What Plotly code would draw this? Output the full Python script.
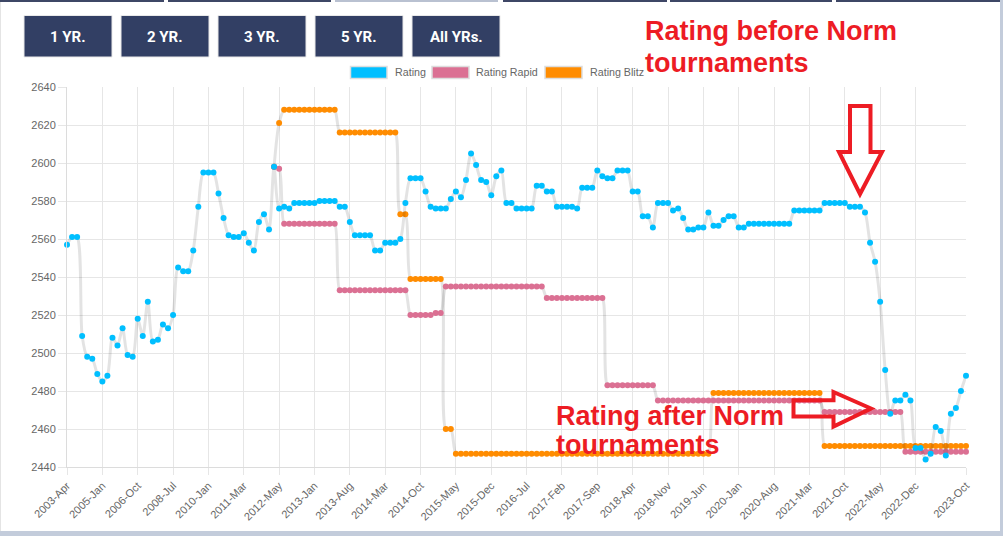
import plotly.graph_objects as go

# ---------------- data ----------------
early_dates = [
    "2003-Apr", "2003-Jul", "2003-Oct", "2004-Jan", "2004-Apr", "2004-Jul", "2004-Oct",
    "2005-Jan", "2005-Apr", "2005-Jul", "2005-Oct", "2006-Jan", "2006-Apr", "2006-Jul",
    "2006-Oct", "2007-Jan", "2007-Apr", "2007-Jul", "2007-Oct", "2008-Jan", "2008-Apr",
    "2008-Jul", "2008-Oct", "2009-Jan", "2009-Apr", "2009-Jul", "2009-Sep", "2009-Nov",
    "2010-Jan", "2010-Mar", "2010-May", "2010-Jul", "2010-Sep", "2010-Nov", "2011-Jan",
    "2011-Mar", "2011-May", "2011-Jul", "2011-Sep", "2011-Nov", "2012-Jan", "2012-Mar",
    "2012-May", "2012-Jul",
]
month_names = ["Jan", "Feb", "Mar", "Apr", "May", "Jun",
               "Jul", "Aug", "Sep", "Oct", "Nov", "Dec"]
monthly_dates = [f"{y}-{m}" for y in range(2012, 2024) for m in month_names]
monthly_dates = monthly_dates[monthly_dates.index("2012-Aug"):monthly_dates.index("2023-Oct") + 1]
dates = early_dates + monthly_dates

tick_labels = [
    "2003-Apr", "2005-Jan", "2006-Oct", "2008-Jul", "2010-Jan", "2011-Mar", "2012-May",
    "2013-Jan", "2013-Aug", "2014-Mar", "2014-Oct", "2015-May", "2015-Dec", "2016-Jul",
    "2017-Feb", "2017-Sep", "2018-Apr", "2018-Nov", "2019-Jun", "2020-Jan", "2020-Aug",
    "2021-Mar", "2021-Oct", "2022-May", "2022-Dec", "2023-Oct",
]

rating = [
    2557, 2561, 2561, 2509, 2498, 2497, 2489, 2485, 2488, 2508,
    2504, 2513, 2499, 2498, 2518, 2509, 2527, 2506, 2507, 2515,
    2513, 2520, 2545, 2543, 2543, 2554, 2577, 2595, 2595, 2595,
    2584, 2571, 2562, 2561, 2561, 2563, 2558, 2554, 2569, 2573,
    2565, 2598, 2576, 2577, 2576, 2579, 2579, 2579, 2579, 2579,
    2580, 2580, 2580, 2580, 2577, 2577, 2569, 2562, 2562, 2562,
    2562, 2554, 2554, 2558, 2558, 2558, 2560, 2579, 2592, 2592,
    2592, 2585, 2577, 2576, 2576, 2576, 2581, 2585, 2582, 2591,
    2605, 2599, 2591, 2590, 2583, 2593, 2596, 2579, 2579, 2576,
    2576, 2576, 2576, 2588, 2588, 2585, 2585, 2577, 2577, 2577,
    2577, 2576, 2587, 2587, 2587, 2596, 2593, 2592, 2592, 2596,
    2596, 2596, 2585, 2585, 2572, 2572, 2566, 2579, 2579, 2579,
    2575, 2576, 2571, 2565, 2565, 2566, 2566, 2574, 2567, 2567,
    2570, 2572, 2572, 2566, 2566, 2568, 2568, 2568, 2568, 2568,
    2568, 2568, 2568, 2568, 2575, 2575, 2575, 2575, 2575, 2575,
    2579, 2579, 2579, 2579, 2579, 2577, 2577, 2577, 2574, 2558,
    2548, 2527, 2491, 2468, 2475, 2475, 2478, 2475, 2450, 2450,
    2444, 2447, 2461, 2459, 2446, 2468, 2471, 2480, 2488,
]

# rapid & blitz start at 2012-Mar (index 41)
rapid = [
    2598, 2597,
    2568, 2568, 2568, 2568, 2568, 2568, 2568, 2568, 2568, 2568, 2568,
    2533, 2533, 2533, 2533, 2533, 2533, 2533, 2533, 2533, 2533, 2533, 2533, 2533, 2533,
    2520, 2520, 2520, 2520, 2520,
    2521, 2521,
    2535, 2535, 2535, 2535, 2535, 2535, 2535, 2535, 2535, 2535,
    2535, 2535, 2535, 2535, 2535, 2535, 2535, 2535, 2535, 2535,
    2529, 2529, 2529, 2529, 2529, 2529, 2529, 2529, 2529, 2529, 2529, 2529,
    2483, 2483, 2483, 2483, 2483, 2483, 2483, 2483, 2483, 2483,
    2475, 2475, 2475, 2475, 2475, 2475, 2475, 2475, 2475, 2475, 2475,
    2475, 2475, 2475, 2475, 2475, 2475, 2475, 2475, 2475, 2475, 2475,
    2475, 2475, 2475, 2475, 2475, 2475, 2475, 2475, 2475, 2475, 2475,
    2469, 2469, 2469, 2469, 2469, 2469, 2469, 2469,
    2469, 2469, 2469, 2469, 2469, 2469, 2469, 2469,
    2448, 2448, 2448, 2448, 2448, 2448, 2448, 2448, 2448, 2448, 2448, 2448, 2448,
]

blitz = [
    2598, 2621,
    2628, 2628, 2628, 2628, 2628, 2628, 2628, 2628, 2628, 2628, 2628,
    2616, 2616, 2616, 2616, 2616, 2616, 2616, 2616, 2616, 2616, 2616, 2616,
    2573, 2573,
    2539, 2539, 2539, 2539, 2539, 2539, 2539,
    2460, 2460,
    2447, 2447, 2447, 2447, 2447, 2447, 2447, 2447, 2447, 2447,
    2447, 2447, 2447, 2447, 2447, 2447, 2447, 2447, 2447, 2447,
    2447, 2447, 2447, 2447, 2447, 2447, 2447, 2447, 2447, 2447,
    2447, 2447, 2447, 2447, 2447, 2447, 2447, 2447, 2447, 2447,
    2447, 2447, 2447, 2447, 2447, 2447, 2447, 2447, 2447, 2447,
    2447,
    2479, 2479, 2479, 2479, 2479, 2479, 2479, 2479, 2479, 2479, 2479,
    2479, 2479, 2479, 2479, 2479, 2479, 2479, 2479, 2479, 2479, 2479,
    2451, 2451, 2451, 2451, 2451, 2451, 2451, 2451, 2451, 2451,
    2451, 2451, 2451, 2451, 2451, 2451, 2451, 2451, 2451, 2451,
    2451, 2451, 2451, 2451, 2451, 2451, 2451, 2451, 2451,
]

series_names = ["Rating", "Rating Rapid", "Rating Blitz"]
series_colors = ["#00bfff", "#db7093", "#ff8c00"]
buttons = ["1 YR.", "2 YR.", "3 YR.", "5 YR.", "All YRs."]

START_SUB = dates.index("2012-Mar")

# ---------------- geometry helpers (page pixels -> paper) ----------------
W, H = 1003, 536
L, R, T, B = 67, 37, 87, 69
PW, PH = W - L - R, H - T - B


def px(x):
    return (x - L) / PW


def py(y):
    return (H - B - y) / PH


def path(points):
    return "M " + " L ".join(f"{px(a):.5f},{py(b):.5f}" for a, b in points) + " Z"


def rect(x0, y0, x1, y1, fill, line_color=None, line_width=0, layer="above"):
    return dict(type="rect", xref="paper", yref="paper",
                x0=px(x0), x1=px(x1), y0=py(y1), y1=py(y0),
                fillcolor=fill, layer=layer,
                line=dict(color=line_color or fill, width=line_width))


GRAY_LINE = "rgba(0,0,0,0.11)"
GRID = "#e6e6e6"
FONT = "Liberation Sans, Arial, Helvetica, sans-serif"

fig = go.Figure()


def series(x, y, color, name):
    return go.Scatter(
        x=x, y=y, name=name, mode="lines+markers",
        line=dict(color=GRAY_LINE, width=3, shape="spline", smoothing=0.8),
        marker=dict(color=color, size=6, line=dict(width=0)),
        cliponaxis=False, showlegend=False,
    )


fig.add_trace(series(dates[START_SUB:], blitz, series_colors[2], series_names[2]))
fig.add_trace(series(dates[START_SUB:], rapid, series_colors[1], series_names[1]))
fig.add_trace(series(dates, rating, series_colors[0], series_names[0]))

shapes = []
annotations = []

# page frame pieces
shapes.append(rect(0, 531, 1003, 536, "#c3ccdb"))
shapes.append(rect(1000, 0, 1003, 536, "#c3ccdb"))
shapes.append(rect(0, 0, 1, 531, "#e4e4e4"))
for x0, x1, c in [(0, 164, "#3e4766"), (168, 331, "#3e4766"), (335, 498, "#b9c1d1"),
                  (503, 667, "#3e4766"), (670, 832, "#3e4766"), (836, 1000, "#3e4766")]:
    shapes.append(rect(x0, 0, x1, 2, c))

# buttons
button_x = [(24, 112), (121, 209), (218, 306), (315, 403), (412, 500)]
for (x0, x1), label in zip(button_x, buttons):
    shapes.append(rect(x0, 15.5, x1, 57, "#323f64", "#e9e9e9", 1))
    annotations.append(dict(
        xref="paper", yref="paper", x=px((x0 + x1) / 2), y=py(36.5),
        text=f"<b>{label}</b>", showarrow=False, xanchor="center", yanchor="middle",
        font=dict(family="Roboto, Liberation Sans, sans-serif", size=15, color="white"),
    ))

# legend (Chart.js style boxes)
legend_items = [(350.5, 387, 393), (432, 469, 474), (545, 582, 588)]
for (b0, b1, tx), name, color in zip(legend_items, series_names, series_colors):
    shapes.append(rect(b0, 66.5, b1, 78.5, color, "#dddddd", 1.5))
    annotations.append(dict(
        xref="paper", yref="paper", x=px(tx), y=py(72.5), text=name,
        showarrow=False, xanchor="left", yanchor="middle",
        font=dict(family=FONT, size=10.7, color="#666666"),
    ))

# red hand-drawn arrows (outline)
RED = "#ed1c24"
down_arrow = [(850, 106), (870.5, 106), (870.5, 152), (882, 152), (860, 194),
              (839, 152), (850, 152)]
right_arrow = [(793.5, 400.3), (833.5, 400.3), (833.5, 392), (871, 408.5),
               (833.5, 426.5), (833.5, 416.5), (793.5, 416.5)]
for pts in (down_arrow, right_arrow):
    shapes.append(dict(type="path", xref="paper", yref="paper", path=path(pts),
                       line=dict(color=RED, width=4), fillcolor="rgba(0,0,0,0)",
                       layer="above"))

# red notes
notes = [
    ("Rating before Norm", 643, 31),
    ("tournaments", 643, 63),
    ("Rating after Norm", 554, 416),
    ("tournaments", 554, 445),
]
for text, x, y in notes:
    annotations.append(dict(
        xref="paper", yref="paper", x=px(x), y=py(y), text=f"<b>{text}</b>",
        showarrow=False, xanchor="left", yanchor="middle",
        font=dict(family=FONT, size=27, color=RED),
    ))

fig.update_layout(
    width=W, height=H,
    margin=dict(l=L, r=R, t=T, b=B, pad=0),
    paper_bgcolor="white", plot_bgcolor="white",
    showlegend=False,
    shapes=shapes, annotations=annotations,
    font=dict(family=FONT, size=11, color="#666666"),
    xaxis=dict(
        type="category", categoryorder="array", categoryarray=dates,
        range=[0, len(dates) - 1],
        tickmode="array", tickvals=tick_labels, ticktext=tick_labels,
        tickangle=-45, tickfont=dict(family=FONT, size=11, color="#666666"),
        showgrid=True, gridcolor=GRID, gridwidth=1,
        ticks="outside", ticklen=7, tickcolor=GRID,
        showline=True, linecolor="#dcdcdc", linewidth=1,
        zeroline=False, fixedrange=True,
    ),
    yaxis=dict(
        range=[2440, 2640], tick0=2440, dtick=20,
        tickfont=dict(family=FONT, size=11, color="#666666"),
        showgrid=True, gridcolor=GRID, gridwidth=1,
        ticks="outside", ticklen=8, tickcolor=GRID,
        showline=True, linecolor="#dcdcdc", linewidth=1,
        zeroline=False, fixedrange=True,
    ),
)

fig.write_html("out.html")
